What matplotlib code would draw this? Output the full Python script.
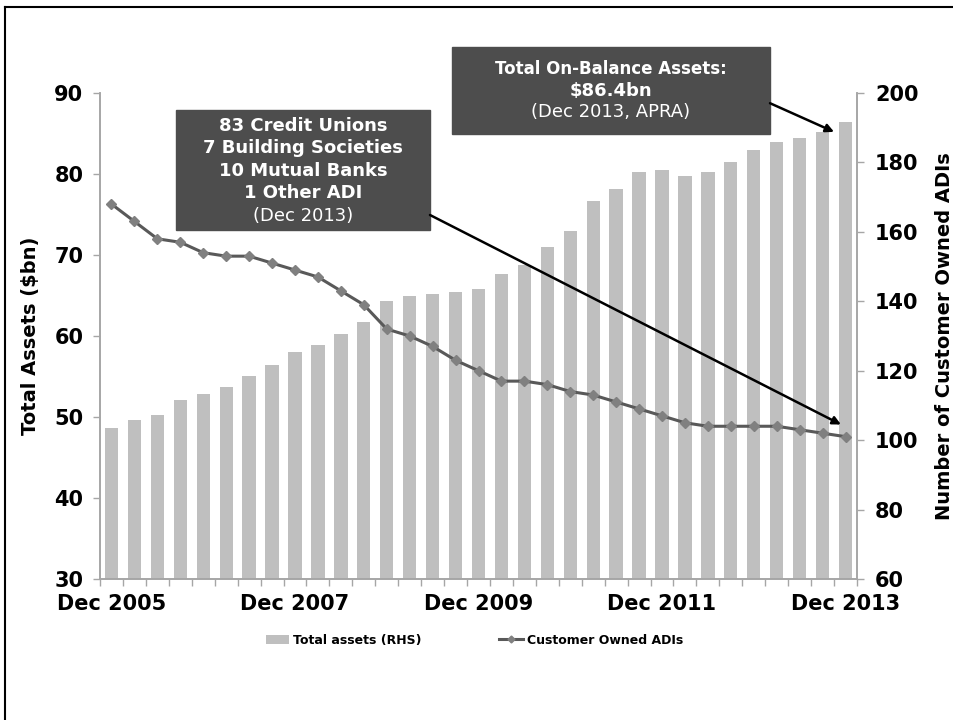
import numpy as np
import matplotlib.pyplot as plt
from matplotlib.lines import Line2D
from matplotlib.patches import Rectangle

# quarterly, Dec 2005 .. Dec 2013
quarters = [f'{m} {y}' for y in range(2005, 2014) for m in ('Mar', 'Jun', 'Sep', 'Dec')][3:]
assets = [48.7, 49.6, 50.2, 52.1, 52.8, 53.7, 55.1, 56.4, 58.0, 58.9,
          60.3, 61.7, 64.3, 64.9, 65.2, 65.4, 65.8, 67.6, 68.8, 71.0,
          73.0, 76.7, 78.1, 80.2, 80.5, 79.8, 80.2, 81.5, 83.0, 83.9,
          84.5, 85.2, 86.4]
adis = [168, 163, 158, 157, 154, 153, 153, 151, 149, 147,
        143, 139, 132, 130, 127, 123, 120, 117, 117, 116,
        114, 113, 111, 109, 107, 105, 104, 104, 104, 104,
        103, 102, 101]
tick_labels = ['Dec 2005', 'Dec 2007', 'Dec 2009', 'Dec 2011', 'Dec 2013']
box1_lines = ['83 Credit Unions', '7 Building Societies', '10 Mutual Banks', '1 Other ADI', '(Dec 2013)']
box2_lines = ['Total On-Balance Assets:', '$86.4bn', '(Dec 2013, APRA)']

bar_col = '#bfbfbf'
line_col = '#595959'
mark_col = '#808080'
spine_col = '#a6a6a6'
box_col = '#4d4d4d'

fig = plt.figure(figsize=(9.54, 7.2), dpi=100)
ax = fig.add_axes([100/954, 1-579/720, 757/954, 486/720])
ax2 = ax.twinx()

x = np.arange(len(quarters))
ax.bar(x, assets, width=0.58, color=bar_col, label='Total assets (RHS)', zorder=2)
ax2.plot(x, adis, color=line_col, lw=2.2, marker='D', ms=5, mfc=mark_col, mec=mark_col,
         label='Customer Owned ADIs', zorder=3)

ax.set_xlim(-0.5, len(quarters) - 0.5)
ax.set_ylim(30, 90)
ax2.set_ylim(60, 200)
ax.set_yticks(np.arange(30, 91, 10))
ax2.set_yticks(np.arange(60, 201, 20))

ax.set_xticks([quarters.index(t) for t in tick_labels])
ax.set_xticklabels(tick_labels)
ax.set_xticks(np.arange(-0.5, len(quarters)), minor=True)
ax.tick_params(axis='x', which='major', length=0, pad=11, labelsize=15)
ax.tick_params(axis='x', which='minor', length=5, width=1, color=spine_col)
ax.tick_params(axis='y', length=5, width=1, color=spine_col, pad=7, labelsize=15)
ax2.tick_params(axis='y', length=5, width=1, color=spine_col, pad=8, labelsize=15)
for lab in ax.get_xticklabels() + ax.get_yticklabels() + ax2.get_yticklabels():
    lab.set_fontweight('bold')

for a in (ax, ax2):
    a.spines['top'].set_visible(False)
    for s in ('left', 'right', 'bottom'):
        a.spines[s].set_color(spine_col)
        a.spines[s].set_linewidth(1.2)

ax.set_ylabel('Total Assets ($bn)', fontsize=14, fontweight='bold')
ax.yaxis.set_label_coords(-0.079, 0.5)
ax2.set_ylabel('Number of Customer Owned ADIs', fontsize=14, fontweight='bold', rotation=90)
ax2.yaxis.set_label_coords(1.103, 0.5)

ax2.set_zorder(ax.get_zorder() + 1)
ax2.patch.set_visible(False)

# annotation boxes
ax2.add_patch(Rectangle((0.1004, 0.7189), 0.3355, 0.2455, transform=ax2.transAxes,
                        color=box_col, clip_on=False, zorder=5))
for s, yy in zip(box1_lines, [0.9311, 0.8864, 0.8401, 0.7940, 0.7465]):
    ax2.text(0.268, yy, s, transform=ax2.transAxes, ha='center', va='center', color='white',
             fontsize=13, fontweight='normal' if s.startswith('(') else 'bold', zorder=6)

ax2.add_patch(Rectangle((0.465, 0.9156), 0.4201, 0.1791, transform=ax2.transAxes,
                        color=box_col, clip_on=False, zorder=5))
for s, yy, fs in zip(box2_lines, [1.0494, 1.0041, 0.9609], [12, 13, 13]):
    ax2.text(0.675, yy, s, transform=ax2.transAxes, ha='center', va='center', color='white',
             fontsize=fs, fontweight='normal' if s.startswith('(') else 'bold', zorder=6)

arrow = dict(arrowstyle='-|>', color='black', lw=1.8, mutation_scale=12, shrinkA=0, shrinkB=0)
ax2.annotate('', xy=(31.5, 60 + (assets[-2] - 30) * 140 / 60), xycoords='data',
             xytext=(0.8851, 0.979), textcoords='axes fraction', arrowprops=arrow, zorder=7)
ax2.annotate('', xy=(31.8, adis[-1] + 3.5), xycoords='data',
             xytext=(0.4359, 0.749), textcoords='axes fraction', arrowprops=arrow, zorder=7)

h1, l1 = ax.get_legend_handles_labels()
h2, l2 = ax2.get_legend_handles_labels()
leg = fig.legend(h1 + h2, l1 + l2, loc='center', bbox_to_anchor=(0.497, 0.111), ncol=2,
                 frameon=False, columnspacing=6.2, handlelength=1.9, handletextpad=0.3,
                 prop={'size': 9, 'weight': 'bold'}, markerscale=0.7)

# slide frame (left and top edges)
fig.add_artist(Line2D([5/954, 5/954], [0, 1 - 7/720], transform=fig.transFigure, color='black', lw=1.5))
fig.add_artist(Line2D([5/954, 1], [1 - 7/720, 1 - 7/720], transform=fig.transFigure, color='black', lw=1.5))

fig.savefig('out.png', dpi=100)
